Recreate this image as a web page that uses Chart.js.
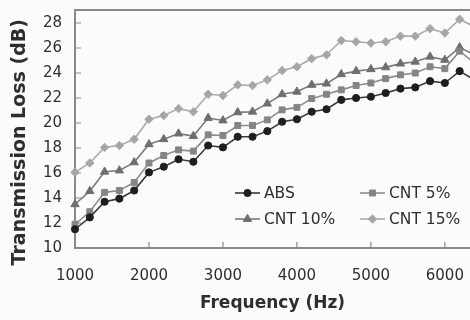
<!DOCTYPE html>
<html lang="en">
<head>
  <meta charset="UTF-8" />
  <title>Transmission Loss</title>
  <script src="https://cdn.jsdelivr.net/npm/chart.js"></script>
  <style>
    body {
      margin: 0;
      background: #fcfcfc;
    }
    .wrap {
      width: 470px;
      height: 320px;
    }
  </style>
</head>
<body>
  <div class="wrap">
    <canvas id="tlChart" width="470" height="320"></canvas>
  </div>

  <script>
    // frequencies (Hz) and transmission loss (dB)
    const freq = [1000, 1200, 1400, 1600, 1800, 2000, 2200, 2400, 2600, 2800, 3000, 3200, 3400, 3600,
                  3800, 4000, 4200, 4400, 4600, 4800, 5000, 5200, 5400, 5600, 5800, 6000, 6200, 6400];
    const absLoss   = [11.5, 12.45, 13.7, 13.95, 14.6, 16.05, 16.5, 17.1, 16.9, 18.2, 18.05, 18.9, 18.9, 19.35,
                       20.1, 20.3, 20.9, 21.1, 21.85, 22.0, 22.1, 22.4, 22.75, 22.85, 23.35, 23.2, 24.15, 23.45];
    const cnt5Loss  = [11.9, 12.9, 14.45, 14.6, 15.25, 16.8, 17.4, 17.85, 17.75, 19.05, 19.0, 19.8, 19.8, 20.25,
                       21.05, 21.25, 21.95, 22.3, 22.65, 23.0, 23.2, 23.55, 23.85, 24.0, 24.5, 24.35, 25.75, 24.8];
    const cnt10Loss = [13.5, 14.55, 16.1, 16.2, 16.85, 18.3, 18.7, 19.15, 18.95, 20.4, 20.2, 20.85, 20.9, 21.55,
                       22.3, 22.5, 23.05, 23.15, 23.9, 24.15, 24.3, 24.45, 24.75, 24.9, 25.3, 25.05, 26.05, 25.45];
    const cnt15Loss = [16.05, 16.8, 18.05, 18.2, 18.7, 20.3, 20.6, 21.15, 20.9, 22.3, 22.2, 23.05, 23.0, 23.45,
                       24.2, 24.5, 25.15, 25.45, 26.6, 26.5, 26.4, 26.5, 26.95, 26.95, 27.55, 27.2, 28.3, 27.7];

    const xTickValues = [1000, 2000, 3000, 4000, 5000, 6000];
    const yTickValues = [10, 12, 14, 16, 18, 20, 22, 24, 26, 28];

    const FONT = "'DejaVu Sans', sans-serif";
    const TEXT = "#2e2e2e";

    const toPoints = vals => freq.map((f, i) => ({ x: f, y: vals[i] }));

    function series(label, vals, color, lineColor, style, radius) {
      return {
        label: label,
        data: toPoints(vals),
        borderColor: lineColor,
        backgroundColor: color,
        pointBackgroundColor: color,
        pointBorderColor: color,
        pointStyle: style,
        pointRadius: radius,
        pointBorderWidth: 1,
        borderWidth: 1.6,
        tension: 0,
        clip: false
      };
    }

    // inward tick marks and top frame line
    const framePlugin = {
      id: "frame",
      beforeDatasetsDraw(chart) {
        const { ctx, chartArea: a, scales: { x, y } } = chart;
        ctx.save();
        ctx.strokeStyle = "#8a8a8a";
        ctx.lineWidth = 2;
        ctx.beginPath();
        ctx.moveTo(a.left - 1, a.top);
        ctx.lineTo(chart.width, a.top);
        ctx.stroke();
        ctx.lineWidth = 1.2;
        ctx.beginPath();
        y.ticks.forEach(t => {
          const py = y.getPixelForValue(t.value);
          ctx.moveTo(a.left, py);
          ctx.lineTo(a.left + 6, py);
        });
        x.ticks.forEach(t => {
          const px = x.getPixelForValue(t.value);
          ctx.moveTo(px, a.bottom);
          ctx.lineTo(px, a.bottom - 6);
        });
        ctx.stroke();
        ctx.restore();
      }
    };

    // 2x2 legend inside the plot
    const legendPlugin = {
      id: "gridLegend",
      afterDatasetsDraw(chart, args, opts) {
        const ctx = chart.ctx;
        ctx.save();
        ctx.font = "15.5px " + FONT;
        ctx.textBaseline = "middle";
        opts.slots.forEach((slot, i) => {
          const ds = chart.data.datasets[i];
          ctx.strokeStyle = ds.borderColor;
          ctx.lineWidth = ds.borderWidth;
          ctx.beginPath();
          ctx.moveTo(slot.x, slot.y);
          ctx.lineTo(slot.x + 25, slot.y);
          ctx.stroke();
          ctx.fillStyle = ds.pointBackgroundColor;
          ctx.strokeStyle = ds.pointBorderColor;
          ctx.lineWidth = 1;
          Chart.helpers.drawPoint(ctx, { pointStyle: ds.pointStyle, radius: ds.pointRadius, rotation: 0, borderWidth: 1 },
            slot.x + 12.5, slot.y);
          ctx.fillStyle = TEXT;
          ctx.fillText(ds.label, slot.x + 29, slot.y + 1);
        });
        ctx.restore();
      }
    };

    new Chart(document.getElementById("tlChart"), {
      type: "line",
      data: {
        datasets: [
          series("ABS", absLoss, "#1e1e1e", "#3a3a3a", "circle", 3.6),
          series("CNT 5%", cnt5Loss, "#858585", "#8c8c8c", "rect", 4.2),
          series("CNT 10%", cnt10Loss, "#6e6e6e", "#7a7a7a", "triangle", 4.8),
          series("CNT 15%", cnt15Loss, "#a6a6a6", "#ababab", "rectRot", 4.2)
        ]
      },
      options: {
        responsive: false,
        animation: false,
        layout: { autoPadding: false, padding: { top: 10, right: 0, left: 0, bottom: 0 } },
        plugins: {
          legend: { display: false },
          tooltip: { enabled: false },
          gridLegend: {
            slots: [
              { x: 235, y: 193 },
              { x: 360, y: 193 },
              { x: 235, y: 219 },
              { x: 360, y: 219 }
            ]
          }
        },
        scales: {
          x: {
            type: "linear",
            min: 1000,
            max: 6340,
            afterBuildTicks: s => { s.ticks = xTickValues.map(v => ({ value: v })); },
            afterFit: s => { s.height = 72; s.paddingLeft = 0; s.paddingRight = 0; },
            grid: { display: false, drawTicks: false },
            border: { display: true, color: "#8a8a8a", width: 2 },
            ticks: { padding: 19, color: TEXT, font: { family: FONT, size: 15 }, callback: v => String(v) },
            title: {
              display: true,
              text: "Frequency (Hz)",
              color: TEXT,
              font: { family: FONT, size: 17, weight: "bold" },
              padding: { top: 0, bottom: 6 }
            }
          },
          y: {
            min: 10,
            max: 29.04,
            afterBuildTicks: s => { s.ticks = yTickValues.map(v => ({ value: v })); },
            afterFit: s => { s.width = 75; s.paddingTop = 0; s.paddingBottom = 0; },
            grid: { display: false, drawTicks: false },
            border: { display: true, color: "#8a8a8a", width: 2 },
            ticks: { padding: 13, color: TEXT, font: { family: FONT, size: 15 }, callback: v => String(v) },
            title: {
              display: true,
              text: "Transmission Loss (dB)    ",
              color: TEXT,
              font: { family: FONT, size: 19, weight: "bold" },
              padding: { top: 9, bottom: 0 }
            }
          }
        }
      },
      plugins: [framePlugin, legendPlugin]
    });
  </script>
</body>
</html>
